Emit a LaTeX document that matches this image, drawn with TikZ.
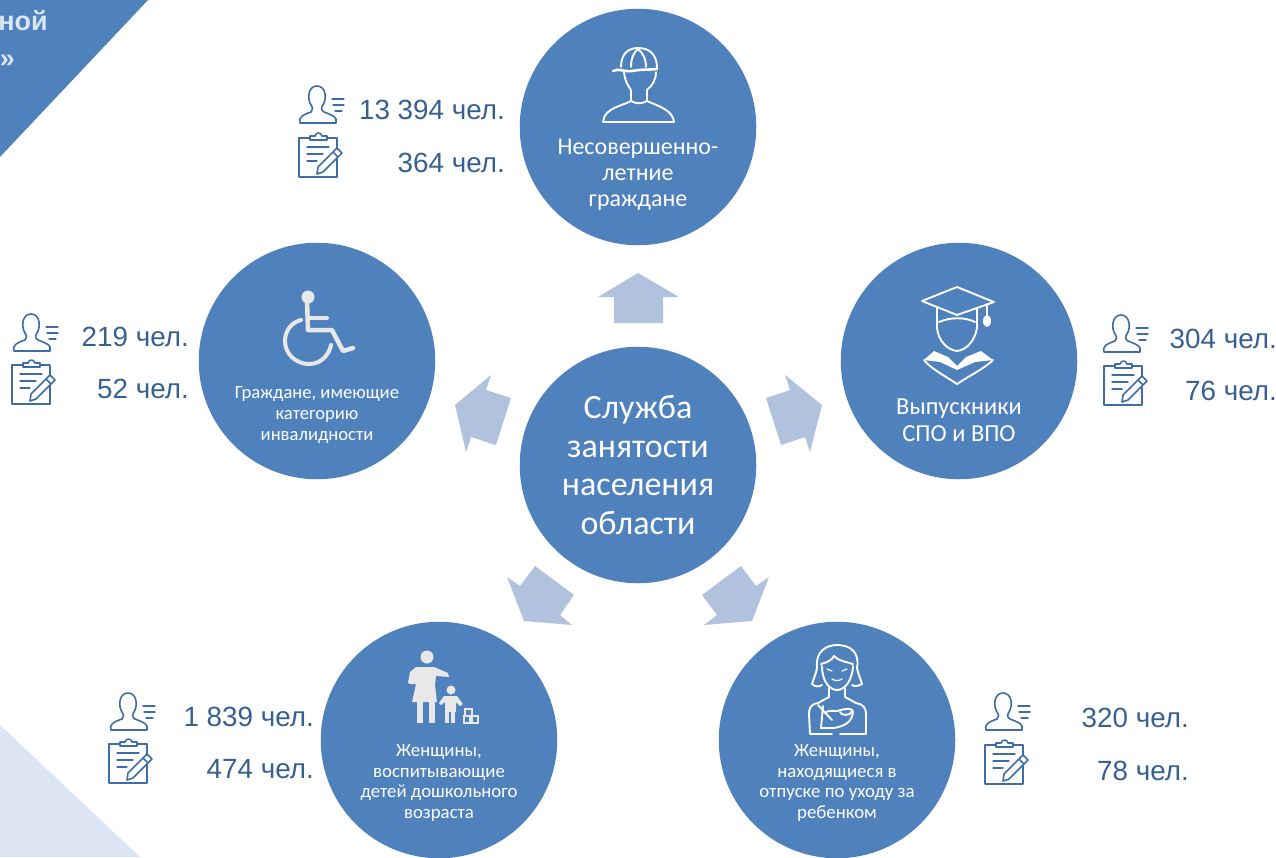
\documentclass[tikz,border=0pt]{standalone}
\usepackage{fontspec}
\setmainfont{Carlito}
\newfontfamily\arialf{Liberation Sans}
\definecolor{blueA}{HTML}{4F81BD}
\definecolor{arrowA}{HTML}{B1C2DE}
\definecolor{paleA}{HTML}{DCE5F3}
\definecolor{numA}{HTML}{376092}
\definecolor{iconA}{HTML}{3E6CA6}
\definecolor{greyA}{HTML}{E8E8E8}
\tikzset{
  x=1pt,y=-1pt,
  bubble/.style={circle,fill=blueA,draw=none,minimum size=236.5pt,inner sep=0pt},
  bubbletext/.style={text=white,align=center,inner sep=0pt},
  blockarrow/.style={fill=arrowA,draw=none},
  countlabel/.style={text=numA,anchor=base east,inner sep=0pt,font=\arialf\fontsize{27.8}{30}\selectfont},
  iconline/.style={draw=white,line width=1.9pt,line join=round,line cap=round,fill=none},
  thinblue/.style={draw=iconA,line width=1.6pt,line join=round,line cap=round,fill=none},
  usericon/.pic={
    \draw[thinblue] (1,38) .. controls (-1,33) and (3,30) .. (12,27) .. controls (14,25) and (14,23) .. (12,20)
      .. controls (8,14) and (9,1) .. (18,1) .. controls (27,1) and (28,14) .. (24,20)
      .. controls (22,23) and (22,25) .. (25,27) .. controls (30,29) and (36,31) .. (37,34) -- (37,38) -- cycle;
    \draw[thinblue,line width=1.3pt] (33,14) -- (45,14) (34,20) -- (45,20) (36,26) -- (43,26);
  },
  clipicon/.pic={
    \draw[thinblue] (38,28) -- (38,46) -- (0,46) -- (0,7) -- (11,7) (28,7) -- (38,7) -- (38,18);
    \draw[thinblue] (11,9) -- (11,5) -- (16,5) .. controls (17,1) and (22,1) .. (23,5) -- (28,5) -- (28,9) -- cycle;
    \draw[thinblue,line width=1.3pt] (8,16) -- (30,16) (8,23) -- (24,23) (8,30) -- (18,30);
    \draw[thinblue] (38,17) -- (43,22) -- (24,41) -- (18,43) -- (19,36) -- cycle (34,21) -- (39,26);
  }
}
\begin{document}
\begin{tikzpicture}
\useasboundingbox (0,0) rectangle (1276,857);
% corner triangles
\fill[blueA] (0,0) -- (148,0) -- (0,157) -- cycle;
\fill[paleA] (0,725) -- (140,857) -- (0,857) -- cycle;
\node[anchor=base east,inner sep=0pt,text=paleA,font=\arialf\bfseries\fontsize{27}{30}\selectfont] (cornerA) at (48,30) {ной};
\node[anchor=base east,inner sep=0pt,text=paleA,font=\arialf\bfseries\fontsize{27}{30}\selectfont] (cornerB) at (15,67) {»};
% circles
\node[bubble,text=white,align=center,font=\fontsize{34}{38.5}\selectfont] (hub) at (638,465) {Служба\\занятости\\населения\\области};
\node[bubble] (minor) at (638,127) {};
\node[bubble] (disabled) at (317,361) {};
\node[bubble] (grad) at (959,361) {};
\node[bubble] (mothers) at (439,740) {};
\node[bubble] (leave) at (837,740) {};
% block arrows
\fill[blockarrow] (638,273) -- (679,297) -- (663,297) -- (663,323) -- (614,323) -- (614,297) -- (598,297) -- cycle;
\fill[blockarrow] (785,375) -- (822,405) -- (810,452) -- (805,437) -- (781,445) -- (766,398) -- (790,390) -- cycle;
\fill[blockarrow] (491,375) -- (455,405) -- (466,452) -- (471,437) -- (496,445) -- (511,398) -- (486,390) -- cycle;
\fill[blockarrow] (507,577) -- (524,621) -- (572,625) -- (560,615) -- (574,595) -- (535,566) -- (520,586) -- cycle;
\fill[blockarrow] (769,577) -- (752,621) -- (704,625) -- (717,615) -- (702,595) -- (741,566) -- (756,586) -- cycle;
% circle labels
\node[bubbletext,font=\fontsize{24}{26}\selectfont] (minorlabel) at (638,175) {Несовершенно-\\летние\\граждане};
\node[bubbletext,font=\fontsize{18.6}{21}\selectfont] (disabledlabel) at (317,415) {Граждане, имеющие\\категорию\\инвалидности};
\node[bubbletext,font=\fontsize{24.4}{27}\selectfont] (gradlabel) at (959,420) {Выпускники\\СПО и ВПО};
\node[bubbletext,font=\fontsize{18.8}{20.5}\selectfont] (motherslabel) at (439,783) {Женщины,\\воспитывающие\\детей дошкольного\\возраста};
\node[bubbletext,font=\fontsize{18.8}{20.5}\selectfont] (leavelabel) at (837,783) {Женщины,\\находящиеся в\\отпуске по уходу за\\ребенком};
% counts
\node[countlabel] (c1a) at (505,119) {13 394 чел.};
\node[countlabel] (c1b) at (505,172) {364 чел.};
\node[countlabel] (c2a) at (189,346) {219 чел.};
\node[countlabel] (c2b) at (189,398) {52 чел.};
\node[countlabel] (c3a) at (1277,348) {304 чел.};
\node[countlabel] (c3b) at (1277,400) {76 чел.};
\node[countlabel] (c4a) at (314,726) {1 839 чел.};
\node[countlabel] (c4b) at (314,778) {474 чел.};
\node[countlabel] (c5a) at (1189,727) {320 чел.};
\node[countlabel] (c5b) at (1189,780) {78 чел.};
% side icons
\pic at (299,85) {usericon};  \pic at (299,131) {clipicon};
\pic at (13,313) {usericon};  \pic at (12,358) {clipicon};
\pic at (1103,314) {usericon};\pic at (1104,359) {clipicon};
\pic at (110,692) {usericon}; \pic at (109,737) {clipicon};
\pic at (985,692) {usericon}; \pic at (985,738) {clipicon};
% worker
\draw[iconline,line width=2.6pt] (613,71) .. controls (618,68) and (624,72) .. (632,71) .. controls (642,69) and (650,70) .. (657,69);
\draw[iconline] (621,67) .. controls (621,54) and (628,48) .. (638,48) .. controls (650,48) and (657,55) .. (657,68);
\draw[iconline] (631,67) .. controls (631,58) and (634,52) .. (638,49) .. controls (642,52) and (646,58) .. (646,67);
\draw[iconline] (624,72) .. controls (625,82) and (629,87) .. (631,90) -- (631,101) .. controls (622,106) and (604,108) .. (603,122)
  -- (674,122) .. controls (673,110) and (658,106) .. (647,101) -- (647,90) .. controls (652,86) and (656,80) .. (656,72);
\draw[iconline] (631,101) .. controls (636,104) and (642,104) .. (647,101);
% wheelchair
\begin{scope}[draw=greyA,line cap=round,line join=round]
\fill[greyA] (308,297) circle[radius=6.5];
\draw[line width=4.5pt] (307,300) -- (308,330) -- (332,330) -- (343,351) -- (353,348);
\draw[line width=4pt] (308,318) -- (327,318);
\draw[line width=4pt] (301,320) .. controls (290,323) and (285,332) .. (285,341)
  .. controls (285,354) and (296,364) .. (309,364) .. controls (321,364) and (329,355) .. (331,345);
\end{scope}
% graduate
\draw[iconline] (922,301) -- (957,287) -- (994,302) -- (957,315) -- cycle;
\draw[iconline] (987,304) -- (987,316);
\fill[white] (987,321) ellipse[x radius=4,y radius=6];
\draw[iconline] (937,308) -- (937,328) .. controls (938,340) and (947,350) .. (957,351)
  .. controls (967,350) and (975,340) .. (977,328) -- (977,308);
\draw[iconline] (939,322) .. controls (950,317) and (965,317) .. (975,322);
\fill[white] (934,351) -- (948,357) -- (957,366) -- (966,357) -- (981,351) -- (993,360) -- (975,362) -- (957,370) -- (940,362) -- (924,360) -- cycle;
\draw[iconline] (924,360) .. controls (930,368) and (945,376) .. (957,384) .. controls (969,376) and (985,368) .. (993,360);
% mother and child
\begin{scope}[greyA]
\fill (427,657) circle[radius=6.5];
\fill (416,667) -- (434,667) -- (448,673) -- (449,677) -- (436,676) -- (435,685) -- (437,702) -- (412,702) -- (416,684) -- (411,684) -- (408,683) -- (410,672) -- cycle;
\fill (417,702) rectangle (423,723);
\fill (429,702) rectangle (435,723);
\fill (451,690) circle[radius=4.5];
\fill (444,696) -- (457,696) -- (463,704) -- (460,706) -- (456,702) -- (456,712) -- (445,712) -- (445,702) -- (441,705) -- (439,703) -- cycle;
\fill (445,711) rectangle (449,723);
\fill (451,711) rectangle (455,723);
\end{scope}
\draw[greyA,line width=1.4pt] (464,716) rectangle (470,723) (472,716) rectangle (478,723) (465,709) rectangle (472,716);
% mother with baby
\draw[iconline] (817,668) .. controls (815,652) and (826,645) .. (837,645) .. controls (850,645) and (860,652) .. (857,668)
  .. controls (858,674) and (861,680) .. (862,684) .. controls (858,686) and (855,687) .. (852,685);
\draw[iconline] (817,668) .. controls (816,674) and (813,680) .. (812,684) .. controls (815,687) and (819,687) .. (822,685);
\draw[iconline] (821,664) .. controls (828,662) and (832,660) .. (834,656) .. controls (838,661) and (847,662) .. (853,664);
\draw[iconline] (822,666) .. controls (822,682) and (830,690) .. (837,690) .. controls (844,690) and (852,682) .. (853,666);
\draw[iconline,line width=1.2pt] (827,669) -- (832,671) (842,671) -- (847,669) (832,679) .. controls (835,681) and (839,681) .. (842,679);
\draw[iconline] (829,688) -- (829,697) -- (818,703) .. controls (811,704) and (809,708) .. (809,714) -- (810,734) -- (832,734);
\draw[iconline] (845,688) -- (845,697) -- (856,703) .. controls (863,704) and (866,708) .. (866,714) -- (866,734) -- (840,734);
\draw[iconline] (823,706) -- (821,728) -- (834,728) .. controls (845,726) and (852,722) .. (853,712) .. controls (853,708) and (847,708) .. (837,711) .. controls (832,711) and (828,710) .. (825,713);
\draw[iconline] (840,712) .. controls (841,716) and (851,716) .. (852,711) (818,705) -- (832,720);
\end{tikzpicture}
\end{document}
